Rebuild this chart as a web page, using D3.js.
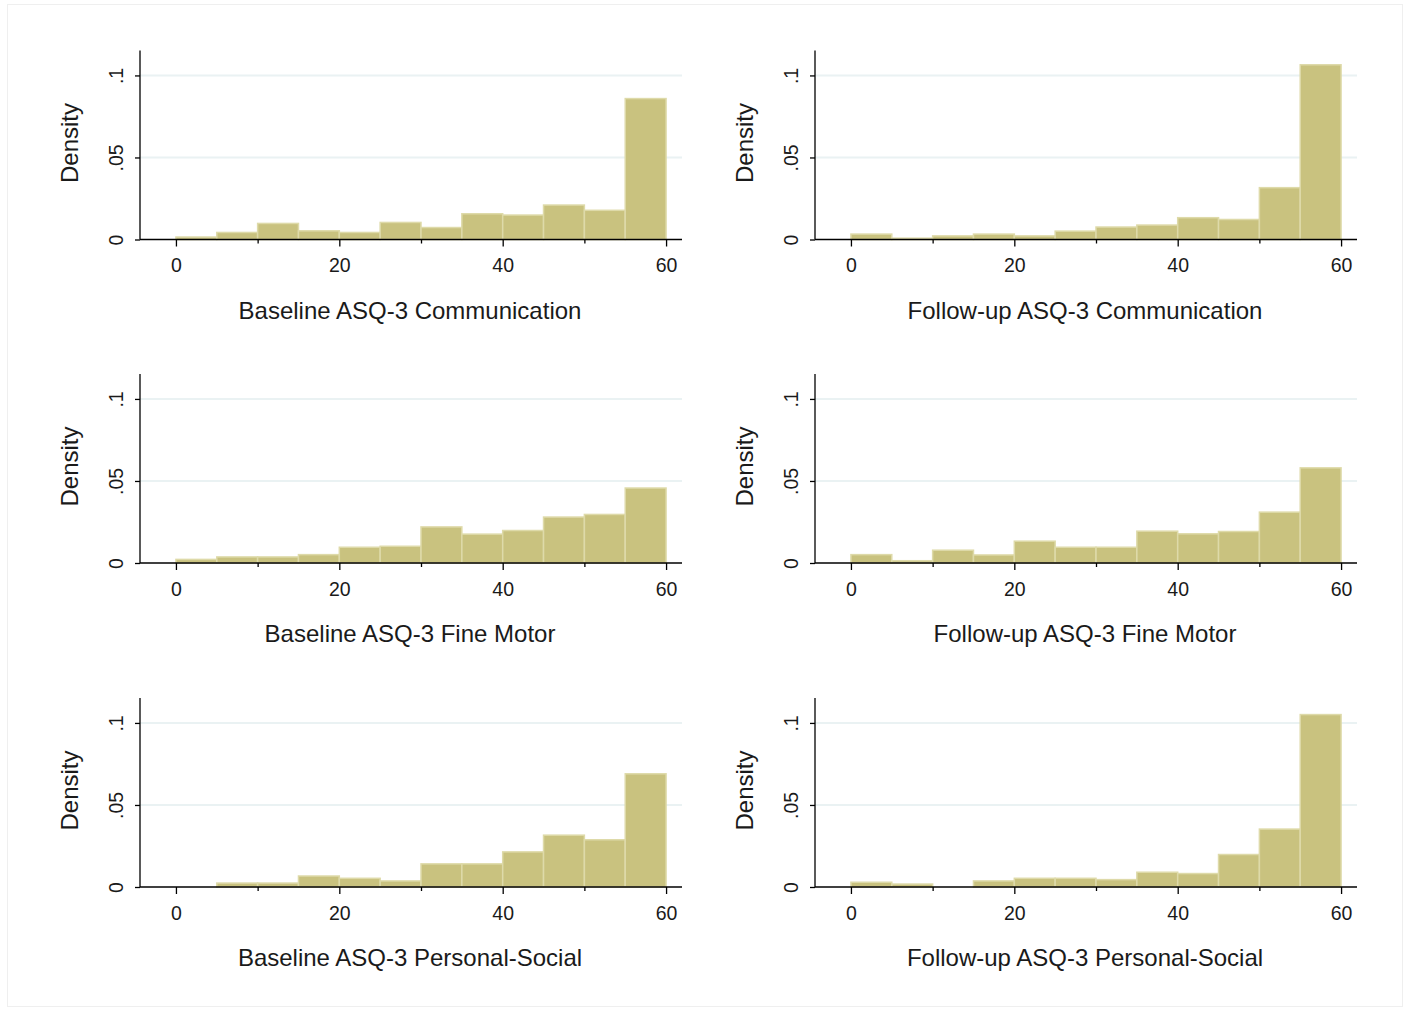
<!DOCTYPE html>
<html>
<head>
<meta charset="utf-8">
<script src="https://cdn.jsdelivr.net/npm/d3@7/dist/d3.min.js"></script>
<style>
  body { margin: 0; background: #fff; }
  svg { display: block; font-family: "Liberation Sans", Arial, sans-serif; }
</style>
</head>
<body>
<svg id="chart" width="1407" height="1012"></svg>
<script>
// Bin edges (width 5, 0–60)
const binStarts = [0, 5, 10, 15, 20, 25, 30, 35, 40, 45, 50, 55];
const binWidth = 5;

// Density values per bin
const baselineCommunication = [0.0015, 0.0043, 0.0098, 0.0053, 0.0043, 0.0104, 0.0073, 0.0157, 0.0149, 0.0210, 0.0178, 0.0859];
const followupCommunication = [0.0033, 0.0008, 0.0022, 0.0033, 0.0022, 0.0051, 0.0076, 0.0088, 0.0133, 0.0122, 0.0316, 0.1065];
const baselineFineMotor     = [0.0022, 0.0037, 0.0037, 0.0051, 0.0096, 0.0102, 0.0220, 0.0176, 0.0198, 0.0280, 0.0296, 0.0457];
const followupFineMotor     = [0.0051, 0.0014, 0.0078, 0.0049, 0.0133, 0.0096, 0.0096, 0.0194, 0.0178, 0.0192, 0.0310, 0.0580];
const baselinePersonalSocial = [0, 0.0024, 0.0024, 0.0067, 0.0053, 0.0037, 0.0141, 0.0141, 0.0214, 0.0316, 0.0288, 0.0690];
const followupPersonalSocial = [0.0029, 0.0018, 0, 0.0037, 0.0053, 0.0053, 0.0045, 0.0090, 0.0082, 0.0198, 0.0353, 0.1051];

const panelTitles = [
  "Baseline ASQ-3 Communication", "Follow-up ASQ-3 Communication",
  "Baseline ASQ-3 Fine Motor", "Follow-up ASQ-3 Fine Motor",
  "Baseline ASQ-3 Personal-Social", "Follow-up ASQ-3 Personal-Social"
];
const panelValues = [
  baselineCommunication, followupCommunication,
  baselineFineMotor, followupFineMotor,
  baselinePersonalSocial, followupPersonalSocial
];

const xMajorTicks = [0, 20, 40, 60];
const xMinorTicks = [10, 30, 50];
const yTicks = [0, 0.05, 0.1];
const yTickLabels = ["0", ".05", ".1"];
const yLabel = "Density";

const svg = d3.select("#chart");

// outer frame
svg.append("rect").attr("x", 7.5).attr("y", 4.5).attr("width", 1395).attr("height", 1002)
  .attr("fill", "#fff").attr("stroke", "#efefef").attr("stroke-width", 1);

const colX = [140, 815];
const rowZero = [239.5, 563, 887];
const plotW = 542;
const plotH = 189;
const xDomain = [-4.4, 61.95];
const yDomain = [0, 0.1152];

panelValues.forEach((vals, i) => {
  const col = i % 2, row = Math.floor(i / 2);
  const left = colX[col];
  const bottom = rowZero[row];
  const g = svg.append("g");

  const x = d3.scaleLinear().domain(xDomain).range([left, left + plotW]);
  const y = d3.scaleLinear().domain(yDomain).range([bottom, bottom - plotH]);

  // gridlines
  g.selectAll("line.grid").data(yTicks.filter(d => d > 0)).join("line")
    .attr("x1", left).attr("x2", left + plotW)
    .attr("y1", d => y(d)).attr("y2", d => y(d))
    .attr("stroke", "#eaf2f3").attr("stroke-width", 2);

  // bars
  const bins = binStarts.map((s, k) => ({ x0: s, x1: s + binWidth, v: vals[k] }));
  g.selectAll("rect.bar").data(bins.filter(d => d.v > 0)).join("rect")
    .attr("x", d => x(d.x0))
    .attr("width", d => x(d.x1) - x(d.x0))
    .attr("y", d => y(d.v))
    .attr("height", d => y(0) - y(d.v))
    .attr("fill", "#c9c27f")
    .attr("stroke", "#dedaa9")
    .attr("stroke-width", 1.5);

  // x axis
  const xAxis = d3.axisBottom(x).tickValues(xMajorTicks).tickSize(7).tickPadding(12).tickFormat(d3.format("d"));
  const xa = g.append("g").attr("transform", `translate(0,${bottom})`).call(xAxis);
  xa.select(".domain").remove();
  xa.append("line").attr("x1", left).attr("x2", left + plotW).attr("y1", 0).attr("y2", 0)
    .attr("stroke", "#000").attr("stroke-width", 1.3);
  xa.selectAll(".tick line").attr("stroke", "#000").attr("stroke-width", 1.3);
  xa.selectAll(".tick text").attr("font-size", 19.5).attr("fill", "#1a1a1a")
    .attr("font-family", "'Liberation Sans', Arial, sans-serif");
  const xMinor = d3.axisBottom(x).tickValues(xMinorTicks).tickSize(4).tickFormat("");
  const xm = g.append("g").attr("transform", `translate(0,${bottom})`).call(xMinor);
  xm.select(".domain").remove();
  xm.selectAll(".tick line").attr("stroke", "#000").attr("stroke-width", 1.3);

  // y axis
  const yAxis = d3.axisLeft(y).tickValues(yTicks).tickSize(5).tickFormat((d, k) => yTickLabels[k]);
  const ya = g.append("g").attr("transform", `translate(${left},0)`).call(yAxis);
  ya.select(".domain").remove();
  ya.append("line").attr("x1", 0).attr("x2", 0).attr("y1", bottom).attr("y2", bottom - plotH)
    .attr("stroke", "#000").attr("stroke-width", 1.3);
  ya.selectAll(".tick line").attr("stroke", "#000").attr("stroke-width", 1.3);
  ya.selectAll(".tick text")
    .attr("font-size", 19.5).attr("fill", "#1a1a1a")
    .attr("font-family", "'Liberation Sans', Arial, sans-serif")
    .attr("x", null).attr("dy", null)
    .attr("text-anchor", "middle")
    .attr("transform", "translate(-17,0) rotate(-90)");

  // y label
  g.append("text")
    .attr("transform", `translate(${left - 70},${bottom - plotH / 2 - 2}) rotate(-90)`)
    .attr("text-anchor", "middle")
    .attr("dy", "0.35em")
    .attr("font-size", 24).attr("fill", "#1a1a1a")
    .text(yLabel);

  // title (x axis title)
  g.append("text")
    .attr("x", left + plotW / 2 - 1)
    .attr("y", bottom + 79)
    .attr("text-anchor", "middle")
    .attr("font-size", 24).attr("fill", "#1a1a1a")
    .text(panelTitles[i]);
});
</script>
</body>
</html>
